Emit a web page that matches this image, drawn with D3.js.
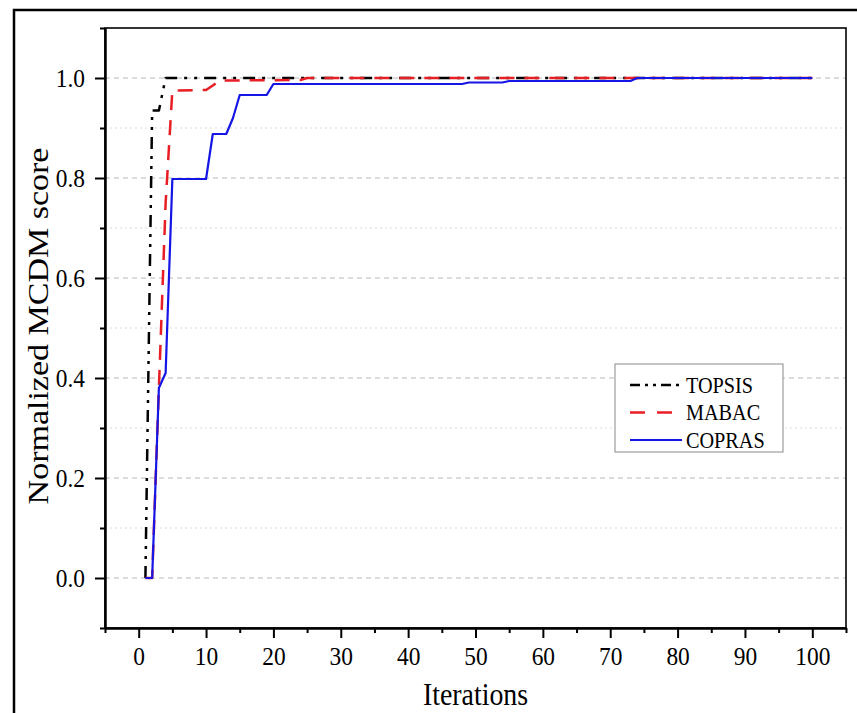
<!DOCTYPE html>
<html>
<head>
<meta charset="utf-8">
<script src="https://cdn.jsdelivr.net/npm/d3@7/dist/d3.min.js"></script>
<style>
  body { margin: 0; background: #fff; }
  text { font-family: "Liberation Serif", "Times New Roman", serif; fill: #000; }
</style>
</head>
<body>
<div id="container-vis"></div>
<script>
// Datos: puntos de quiebre de cada curva (iteracion, puntaje normalizado)

const iterTOPSIS = [1, 2, 3, 4, 100];
const scoreTOPSIS = [0, 0.935, 0.935, 1.0, 1.0];

const iterMABAC = [1, 2, 3, 4, 5, 10, 11, 12, 24, 25, 100];
const scoreMABAC = [0, 0, 0.38, 0.75, 0.975, 0.976, 0.985, 0.995, 0.996, 1.0, 1.0];

const iterCOPRAS = [1, 2, 3, 4, 5, 10, 11, 13, 14, 15, 19, 20, 48, 49, 54, 55, 73, 74, 100];
const scoreCOPRAS = [0, 0, 0.38, 0.41, 0.798, 0.798, 0.888, 0.888, 0.92, 0.966, 0.966, 0.988, 0.988, 0.991, 0.991, 0.994, 0.994, 1.0, 1.0];

const seriesNames = ["TOPSIS", "MABAC", "COPRAS"];
const xTicks = [0, 10, 20, 30, 40, 50, 60, 70, 80, 90, 100];
const xMinorTicks = [-5, 5, 15, 25, 35, 45, 55, 65, 75, 85, 95, 105];
const yTicks = [0.0, 0.2, 0.4, 0.6, 0.8, 1.0];
const yMinorTicks = [-0.1, 0.1, 0.3, 0.5, 0.7, 0.9, 1.1];

// Estilos

const colores = ["#000000", "#e81e25", "#1515e6"];
const dashes = ["12,7,3,7,3,7", "15,10", null];
const grosores = [2.5, 2.5, 2.2];

const WIDTH = 857;
const HEIGHT = 713;

MARGIN = {
    top: 28,
    bottom: 85,
    right: 11,
    left: 105,
}

const X0 = MARGIN.left;
const X1 = WIDTH - MARGIN.right;
const Y0 = MARGIN.top;
const Y1 = HEIGHT - MARGIN.bottom;

const SQ = 0.9;   // compresion horizontal del texto
const SQ_T = 0.87;

const series = [
    iterTOPSIS.map((d, i) => ({ x: d, y: scoreTOPSIS[i] })),
    iterMABAC.map((d, i) => ({ x: d, y: scoreMABAC[i] })),
    iterCOPRAS.map((d, i) => ({ x: d, y: scoreCOPRAS[i] })),
];

const svg = d3.select("#container-vis")
    .append("svg")
    .attr("width", WIDTH)
    .attr("height", HEIGHT);

// marco exterior
svg.append("rect")
    .attr("x", 14)
    .attr("y", 10)
    .attr("width", 870)
    .attr("height", 730)
    .attr("fill", "none")
    .attr("stroke", "#000")
    .attr("stroke-width", 2.5);

const xScale = d3.scaleLinear().domain([-5, 105]).range([X0, X1]);
const yScale = d3.scaleLinear().domain([-0.1, 1.1]).range([Y1, Y0]);

// grilla
svg.append("g")
    .selectAll("line")
    .data(yMinorTicks.filter(d => d > 0 && d < 1.05))
    .join("line")
    .attr("x1", X0).attr("x2", X1)
    .attr("y1", d => yScale(d)).attr("y2", d => yScale(d))
    .attr("stroke", "#dadada")
    .attr("stroke-width", 1)
    .attr("stroke-dasharray", "2,3");

svg.append("g")
    .selectAll("line")
    .data(yTicks)
    .join("line")
    .attr("x1", X0).attr("x2", X1)
    .attr("y1", d => yScale(d)).attr("y2", d => yScale(d))
    .attr("stroke", "#b8b8b8")
    .attr("stroke-width", 1)
    .attr("stroke-dasharray", "5,4");

// caja del grafico
svg.append("rect")
    .attr("x", X0)
    .attr("y", Y0)
    .attr("width", X1 - X0)
    .attr("height", Y1 - Y0)
    .attr("fill", "none")
    .attr("stroke", "#000")
    .attr("stroke-width", 1.6);

// lineas
const linea = d3.line()
    .x(d => xScale(d.x))
    .y(d => yScale(d.y));

svg.append("g")
    .selectAll("path")
    .data(series)
    .join("path")
    .attr("d", linea)
    .attr("fill", "none")
    .attr("stroke", (d, i) => colores[i])
    .attr("stroke-width", (d, i) => grosores[i])
    .attr("stroke-dasharray", (d, i) => dashes[i])
    .attr("stroke-linejoin", "round");

// ejes
const ejeX = svg.append("g")
    .attr("transform", `translate(0, ${Y1})`)
    .call(d3.axisBottom(xScale).tickValues(xTicks).tickSize(10).tickSizeOuter(0).tickPadding(9));

svg.append("g")
    .attr("transform", `translate(0, ${Y1})`)
    .call(d3.axisBottom(xScale).tickValues(xMinorTicks).tickSize(5).tickSizeOuter(0).tickFormat(""));

const ejeY = svg.append("g")
    .attr("transform", `translate(${X0}, 0)`)
    .call(d3.axisLeft(yScale).tickValues(yTicks).tickSize(10).tickSizeOuter(0).tickPadding(10)
        .tickFormat(d3.format(".1f")));

svg.append("g")
    .attr("transform", `translate(${X0}, 0)`)
    .call(d3.axisLeft(yScale).tickValues(yMinorTicks).tickSize(5).tickSizeOuter(0).tickFormat(""));

svg.selectAll(".domain").attr("stroke", "#000").attr("stroke-width", 2);
svg.selectAll(".tick line").attr("stroke", "#000").attr("stroke-width", 2);

ejeX.selectAll("text")
    .attr("font-size", 26)
    .attr("font-family", "Liberation Serif, serif")
    .attr("transform", `scale(${SQ}, 1)`);

ejeY.selectAll("text")
    .attr("font-size", 26)
    .attr("font-family", "Liberation Serif, serif")
    .attr("x", -20 / SQ)
    .attr("transform", `scale(${SQ}, 1)`);

// titulos de ejes
svg.append("text")
    .text("Iterations")
    .attr("transform", `translate(${(X0 + X1) / 2}, 705) scale(${SQ_T}, 1)`)
    .attr("font-size", 32)
    .style("text-anchor", "middle");

svg.append("text")
    .text("Normalized MCDM score")
    .attr("transform", `translate(48, ${(Y0 + Y1) / 2 - 2}) rotate(-90) scale(1, ${SQ_T})`)
    .attr("font-size", 34)
    .style("text-anchor", "middle");

// leyenda
const leyenda = svg.append("g")
    .attr("transform", "translate(615, 364)");

leyenda.append("rect")
    .attr("width", 168)
    .attr("height", 88)
    .attr("fill", "#fff")
    .attr("stroke", "#8a8a8a")
    .attr("stroke-width", 1);

const items = leyenda.selectAll(".item")
    .data(seriesNames)
    .join("g")
    .attr("class", "item")
    .attr("transform", (d, i) => `translate(0, ${21 + i * 27.5})`);

items.append("line")
    .attr("x1", 15).attr("x2", 67)
    .attr("stroke", (d, i) => colores[i])
    .attr("stroke-width", (d, i) => grosores[i])
    .attr("stroke-dasharray", (d, i) => dashes[i] == null ? null : (i == 0 ? "10,5,3,5,3,5" : "15,12"));

items.append("text")
    .text(d => d)
    .attr("transform", `translate(71, 7.5) scale(${SQ}, 1)`)
    .attr("font-size", 22.5);
</script>
</body>
</html>
